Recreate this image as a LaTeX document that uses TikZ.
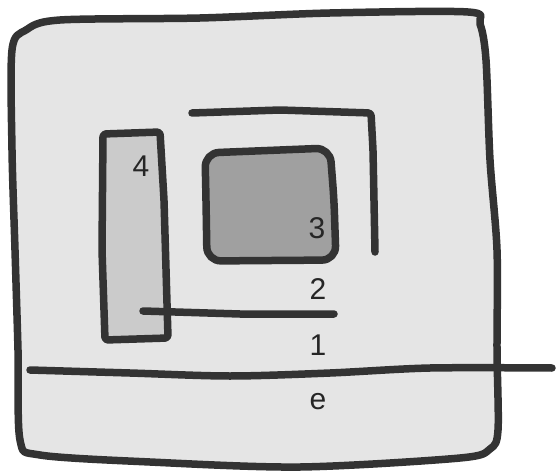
\documentclass[tikz,border=0pt]{standalone}
\usepackage{fontspec}
\setmainfont{Liberation Sans}
\definecolor{ink}{HTML}{333333}
\definecolor{outerfill}{HTML}{E5E5E5}
\definecolor{boxfour}{HTML}{CBCBCB}
\definecolor{boxthree}{HTML}{A0A0A0}
\begin{document}
\begin{tikzpicture}[x=1pt,y=-1pt,
  stroke/.style={draw=ink,line width=7.5pt,line cap=round,line join=round},
  lbl/.style={font=\fontsize{30}{33}\selectfont,text=black!85,inner sep=0pt}]
\useasboundingbox (0,0) rectangle (556,473);
% outer region
\draw[stroke,fill=outerfill] plot[smooth cycle,tension=0.5] coordinates {
 (12,50) (26,30) (60,20) (200,18) (330,13) (468,12) (480,24) (486,60) (490,160)
 (497,250) (497,350) (498,430) (490,449) (460,458) (300,467) (150,462) (40,455)
 (20,440) (18,350) (15,250) (12,150)};
% e boundary line
\coordinate (eL) at (30,370);
\coordinate (eR) at (552,368);
\draw[stroke] plot[smooth,tension=0.5] coordinates {(eL) (130,373) (230,376) (330,373) (430,368) (eR)};
% region 4
\draw[stroke,fill=boxfour,rounded corners=3pt] (103,134) -- (160,132) -- (164,200) -- (168,338) -- (105,340) -- (102,250) -- cycle;
% region 3
\draw[stroke,fill=boxthree,rounded corners=14pt] (205,153) -- (330,148) -- (334,200) -- (336,260) -- (207,261) -- (206,200) -- cycle;
% bracket
\coordinate (bA) at (192,113);
\coordinate (bB) at (371,113);
\coordinate (bC) at (375,252);
\draw[stroke,rounded corners=3pt] (bA) -- (280,110) -- (bB) -- (373,150) -- (bC);
% line 1
\coordinate (lA) at (143,311);
\coordinate (lB) at (334,314);
\draw[stroke] (lA) -- (240,314) -- (lB);
% labels
\node[lbl] (n4) at (141,166) {4};
\node[lbl] (n3) at (317,228) {3};
\node[lbl] (n2) at (318,289) {2};
\node[lbl] (n1) at (318,345) {1};
\node[lbl] (ne) at (318,402) {e};
\end{tikzpicture}
\end{document}
